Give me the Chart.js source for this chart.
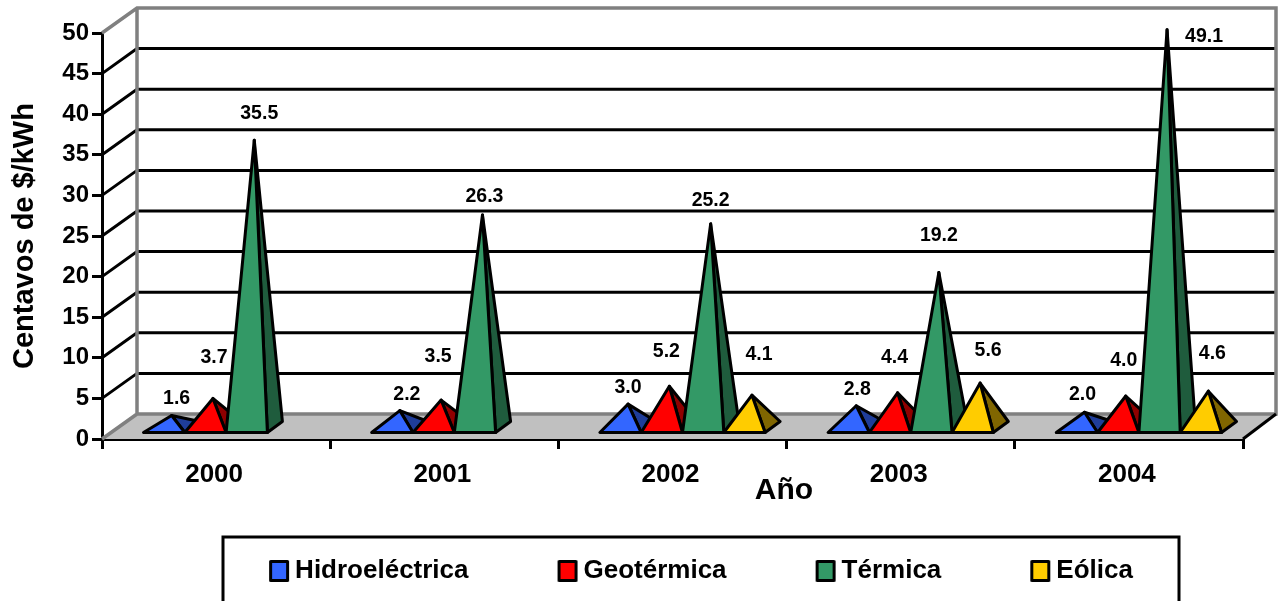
<!DOCTYPE html>
<html><head><meta charset="utf-8">
<style>html,body{margin:0;padding:0;background:#fff;overflow:hidden}canvas{display:block}</style>
<script src="https://cdn.jsdelivr.net/npm/chart.js@4"></script>
</head><body><canvas id="c" width="1284" height="601"></canvas>
<script>
const years = ['2000','2001','2002','2003','2004'];
const hidro = [1.6,2.2,3.0,2.8,2.0];
const geo = [3.7,3.5,5.2,4.4,4.0];
const termica = [35.5,26.3,25.2,19.2,49.1];
const eolica = [null,null,4.1,5.6,4.6];
const seriesNames = ['Hidroeléctrica','Geotérmica','Térmica','Eólica'];
const frontColors = ['#3366FF','#FF0000','#339966','#FFCC00'];
const sideColors = ['#1F3D99','#8F0000','#1F5C3D','#806600'];
const yTitle = 'Centavos de $/kWh';
const xTitle = 'Año';
// label displacement from each pyramid's apex [series][category]
const labelNudges = [
  [[5,-17],[7,-16],[0,-17],[1,-16],[-2,-18]],
  [[1,-41],[-3,-43],[-3,-35],[-3,-35],[-2,-35]],
  [[5,-27],[2,-18],[0,-23],[0,-37],[37,7]],
  [null,null,[7,-41],[8,-32],[4,-38]]
];
const FONT = '"Liberation Sans", Arial, sans-serif';
const WALL = {dxL:35, dxR:33, dy:-25};
const BASE = {dx:10, dy:-5, depthX:15, depthY:-11};

function pyramid(bar){
  const l = bar.x - bar.width/2 + BASE.dx, r = bar.x + bar.width/2 + BASE.dx;
  const b = bar.base + BASE.dy;
  return {l, r, b,
    bx: r + BASE.depthX, by: b + BASE.depthY,
    ax: (l+r)/2 + BASE.depthX/2,
    ay: bar.y + BASE.dy + BASE.depthY/2};
}

function legendIcon(color){
  const c = document.createElement('canvas');
  c.width = 22; c.height = 24;
  const g = c.getContext('2d');
  g.fillStyle = color; g.strokeStyle = '#000'; g.lineWidth = 3; g.lineJoin = 'round';
  g.beginPath(); g.rect(2.5,2.5,17,19); g.fill(); g.stroke();
  return c;
}
const legendIcons = frontColors.map(legendIcon);

const scene = {
  id:'scene',
  beforeLayout(chart){
    const lg = chart.legend;
    if (lg && !lg._wrapped){
      const f = lg.fit;
      lg.fit = function(){ f.call(this); this.height = 0; };
      lg._wrapped = true;
    }
  },
  afterLayout(chart){
    const lg = chart.legend, pad = lg.options.labels.padding;
    lg.left = 125; lg.right = 1284;
    lg.top = 570 - pad - 12;
    lg.bottom = 601;
  },
  beforeDatasetsDraw(chart){
    const {ctx, chartArea:a, scales:{y}} = chart;
    const d = WALL, y0 = y.getPixelForValue(0), yT = y.getPixelForValue(50);
    const wl = a.left+d.dxL, wr = a.right+d.dxR;
    ctx.save();
    ctx.lineJoin='miter';
    // floor
    ctx.fillStyle='#C0C0C0';
    ctx.beginPath();
    ctx.moveTo(a.left,y0);ctx.lineTo(a.right,y0);ctx.lineTo(wr,y0+d.dy);ctx.lineTo(wl,y0+d.dy);ctx.closePath();ctx.fill();
    // grid on the wall and the side wall
    ctx.strokeStyle='#000';ctx.lineWidth=3;
    y.ticks.forEach(t=>{
      if(t.value===0||t.value===50)return;
      const p=y.getPixelForValue(t.value);
      ctx.beginPath();ctx.moveTo(a.left,p);ctx.lineTo(wl,p+d.dy);ctx.lineTo(wr,p+d.dy);ctx.stroke();
    });
    // gray frame
    ctx.strokeStyle='#808080';ctx.lineWidth=3.5;
    ctx.beginPath();
    ctx.moveTo(a.left,y0);ctx.lineTo(wl,y0+d.dy);ctx.lineTo(wl,yT+d.dy);
    ctx.moveTo(a.left,yT);ctx.lineTo(wl,yT+d.dy);ctx.lineTo(wr,yT+d.dy);ctx.lineTo(wr,y0+d.dy);ctx.lineTo(wl,y0+d.dy);
    ctx.stroke();
    // front right floor edge
    ctx.strokeStyle='#000';ctx.lineWidth=3;
    ctx.beginPath();ctx.moveTo(a.right,y0);ctx.lineTo(wr,y0+d.dy);ctx.stroke();
    // pyramids, painted left to right so each one covers its left neighbour
    ctx.lineJoin='round';ctx.strokeStyle='#000';ctx.lineWidth=3;
    chart.data.datasets.forEach((ds,i)=>{
      chart.getDatasetMeta(i).data.forEach((bar,j)=>{
        if(ds.data[j]==null)return;
        const p=pyramid(bar);
        ctx.fillStyle=sideColors[i];
        ctx.beginPath();ctx.moveTo(p.r,p.b);ctx.lineTo(p.bx,p.by);ctx.lineTo(p.ax,p.ay);ctx.closePath();ctx.fill();ctx.stroke();
        ctx.fillStyle=frontColors[i];
        ctx.beginPath();ctx.moveTo(p.l,p.b);ctx.lineTo(p.r,p.b);ctx.lineTo(p.ax,p.ay);ctx.closePath();ctx.fill();ctx.stroke();
      });
    });
    ctx.restore();
  },
  beforeDatasetDraw(){ return false; },
  afterDatasetsDraw(chart){
    const {ctx} = chart;
    ctx.save();
    ctx.fillStyle='#000';ctx.textAlign='center';ctx.textBaseline='middle';
    ctx.font='bold 19.5px '+FONT;
    chart.data.datasets.forEach((ds,i)=>{
      chart.getDatasetMeta(i).data.forEach((bar,j)=>{
        if(ds.data[j]==null)return;
        const p=pyramid(bar), n=labelNudges[i][j];
        ctx.fillText(ds.data[j].toFixed(1),p.ax+n[0],p.ay+n[1]);
      });
    });
    ctx.restore();
  },
  afterDraw(chart){
    const {ctx} = chart;
    ctx.save();
    ctx.fillStyle='#000';ctx.textAlign='center';ctx.textBaseline='middle';
    ctx.font='bold 30px '+FONT;
    ctx.fillText(xTitle,784,491);
    ctx.strokeStyle='#000';ctx.lineWidth=3;
    ctx.strokeRect(223,537,956,80);
    ctx.restore();
  }
};

const allValues=[hidro,geo,termica,eolica];
new Chart(document.getElementById('c'),{
  type:'bar',
  data:{labels:years,datasets:seriesNames.map((n,i)=>({
    label:n,data:allValues[i],backgroundColor:frontColors[i],borderColor:'#000',borderWidth:3,
    categoryPercentage:0.724,barPercentage:1
  }))},
  plugins:[scene],
  options:{
    responsive:false,animation:false,devicePixelRatio:1,
    layout:{padding:{top:33,right:41,left:0,bottom:0}},
    plugins:{
      tooltip:{enabled:false},
      legend:{position:'bottom',labels:{
        usePointStyle:true,pointStyleWidth:6,padding:96,color:'#000',
        font:{family:FONT,weight:'bold',size:26},
        generateLabels(chart){
          const items=Chart.defaults.plugins.legend.labels.generateLabels(chart);
          items.forEach((it,i)=>{it.pointStyle=legendIcons[i];});
          return items;
        }
      }}
    },
    scales:{
      x:{
        afterFit(s){s.height=162;},
        grid:{offset:true,drawOnChartArea:false,color:'#000',lineWidth:3,tickLength:10},
        border:{color:'#000',width:3},
        ticks:{color:'#000',font:{family:FONT,weight:'bold',size:26},padding:10,labelOffset:-2,maxRotation:0}
      },
      y:{
        min:0,max:50,
        afterFit(s){s.width=102;},
        grid:{drawOnChartArea:false,color:'#000',lineWidth:3,tickLength:10},
        border:{color:'#000',width:3},
        ticks:{stepSize:5,color:'#000',font:{family:FONT,weight:'bold',size:24},padding:3},
        title:{display:true,text:yTitle,color:'#000',font:{family:FONT,weight:'bold',size:29},padding:{top:8,bottom:0}}
      }
    }
  }
});
</script></body></html>
